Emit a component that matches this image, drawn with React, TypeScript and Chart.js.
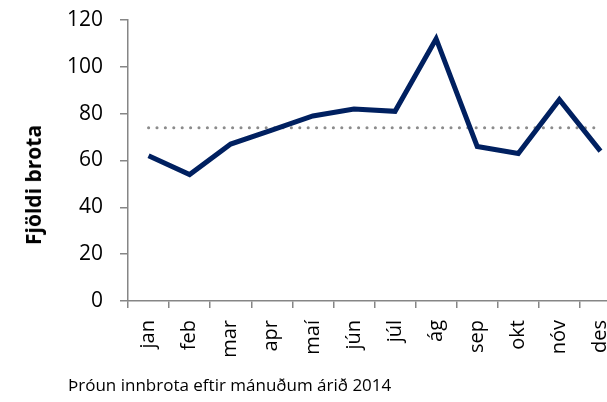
import React, { useEffect, useRef } from "react";
import { Chart, registerables } from "chart.js";

Chart.register(...registerables);

const months = ["jan", "feb", "mar", "apr", "maí", "jún", "júl", "ág", "sep", "okt", "nóv", "des"];
const burglaries = [62, 54, 67, 73, 79, 82, 81, 112, 66, 63, 86, 64];
const averageLine = [74, 74, 74, 74, 74, 74, 74, 74, 74, 74, 74, 74];
const yTicks = [0, 20, 40, 60, 80, 100, 120];
const yTitle = "Fjöldi brota";
const caption = "Þróun innbrota eftir mánuðum árið 2014";

const FONT = "'Open Sans', 'Noto Sans', sans-serif";
const AXIS = "#868686";

export default function App() {
  const ref = useRef<HTMLCanvasElement | null>(null);

  useEffect(() => {
    if (!ref.current) return;
    const chart = new Chart(ref.current, {
      type: "line",
      data: {
        labels: months,
        datasets: [
          {
            label: "Meðaltal",
            data: averageLine,
            borderColor: "#8c8c8c",
            borderWidth: 3,
            borderDash: [0.1, 8.3],
            borderCapStyle: "round",
            pointRadius: 0,
            fill: false,
            order: 2,
          },
          {
            label: "Fjöldi brota",
            data: burglaries,
            borderColor: "#002060",
            borderWidth: 5,
            borderJoinStyle: "miter",
            pointRadius: 0,
            tension: 0,
            fill: false,
            order: 1,
          },
        ],
      },
      options: {
        animation: false,
        responsive: true,
        maintainAspectRatio: false,
        layout: { padding: { left: 0, right: 9, top: 20, bottom: 0 } },
        plugins: { legend: { display: false }, tooltip: { enabled: false } },
        scales: {
          x: {
            type: "category",
            offset: true,
            grid: {
              display: true,
              offset: true,
              drawOnChartArea: false,
              drawTicks: true,
              tickLength: 7,
              color: AXIS,
              lineWidth: 1.5,
            },
            border: { display: true, color: AXIS, width: 1.5 },
            ticks: {
              color: "#000",
              font: { family: FONT, size: 20 },
              maxRotation: 90,
              minRotation: 90,
              padding: 12,
              autoSkip: false,
            },
            afterFit: (s: any) => {
              s.height = 101;
              s.paddingLeft = 0;
              s.paddingRight = 0;
            },
          },
          y: {
            min: 0,
            max: 120,
            afterBuildTicks: (s: any) => {
              s.ticks = yTicks.map((v) => ({ value: v }));
            },
            grid: {
              display: true,
              drawOnChartArea: false,
              drawTicks: true,
              tickLength: 8,
              color: AXIS,
              lineWidth: 1.5,
            },
            border: { display: true, color: AXIS, width: 1.5 },
            ticks: {
              color: "#000",
              font: { family: FONT, size: 21 },
              padding: 17,
            },
            title: { display: false },
            afterFit: (s: any) => {
              s.width = 128;
              s.paddingTop = 0;
              s.paddingBottom = 0;
            },
          },
        },
      },
    });
    return () => chart.destroy();
  }, []);

  return (
    <div style={{ position: "fixed", left: 0, top: 0, width: 630, height: 402, background: "#fff" }}>
      <canvas ref={ref} />
      <div
        style={{
          position: "absolute",
          left: 33,
          top: 185,
          transform: "translate(-50%, -50%) rotate(-90deg)",
          fontFamily: FONT,
          fontSize: 21,
          fontWeight: "bold",
          color: "#000",
          whiteSpace: "nowrap",
          lineHeight: "26px",
        }}
      >
        {yTitle}
      </div>
      <div
        style={{
          position: "absolute",
          left: 68,
          top: 373,
          fontFamily: FONT,
          fontSize: 17,
          color: "#000",
          whiteSpace: "nowrap",
          lineHeight: "24px",
        }}
      >
        {caption}
      </div>
    </div>
  );
}
